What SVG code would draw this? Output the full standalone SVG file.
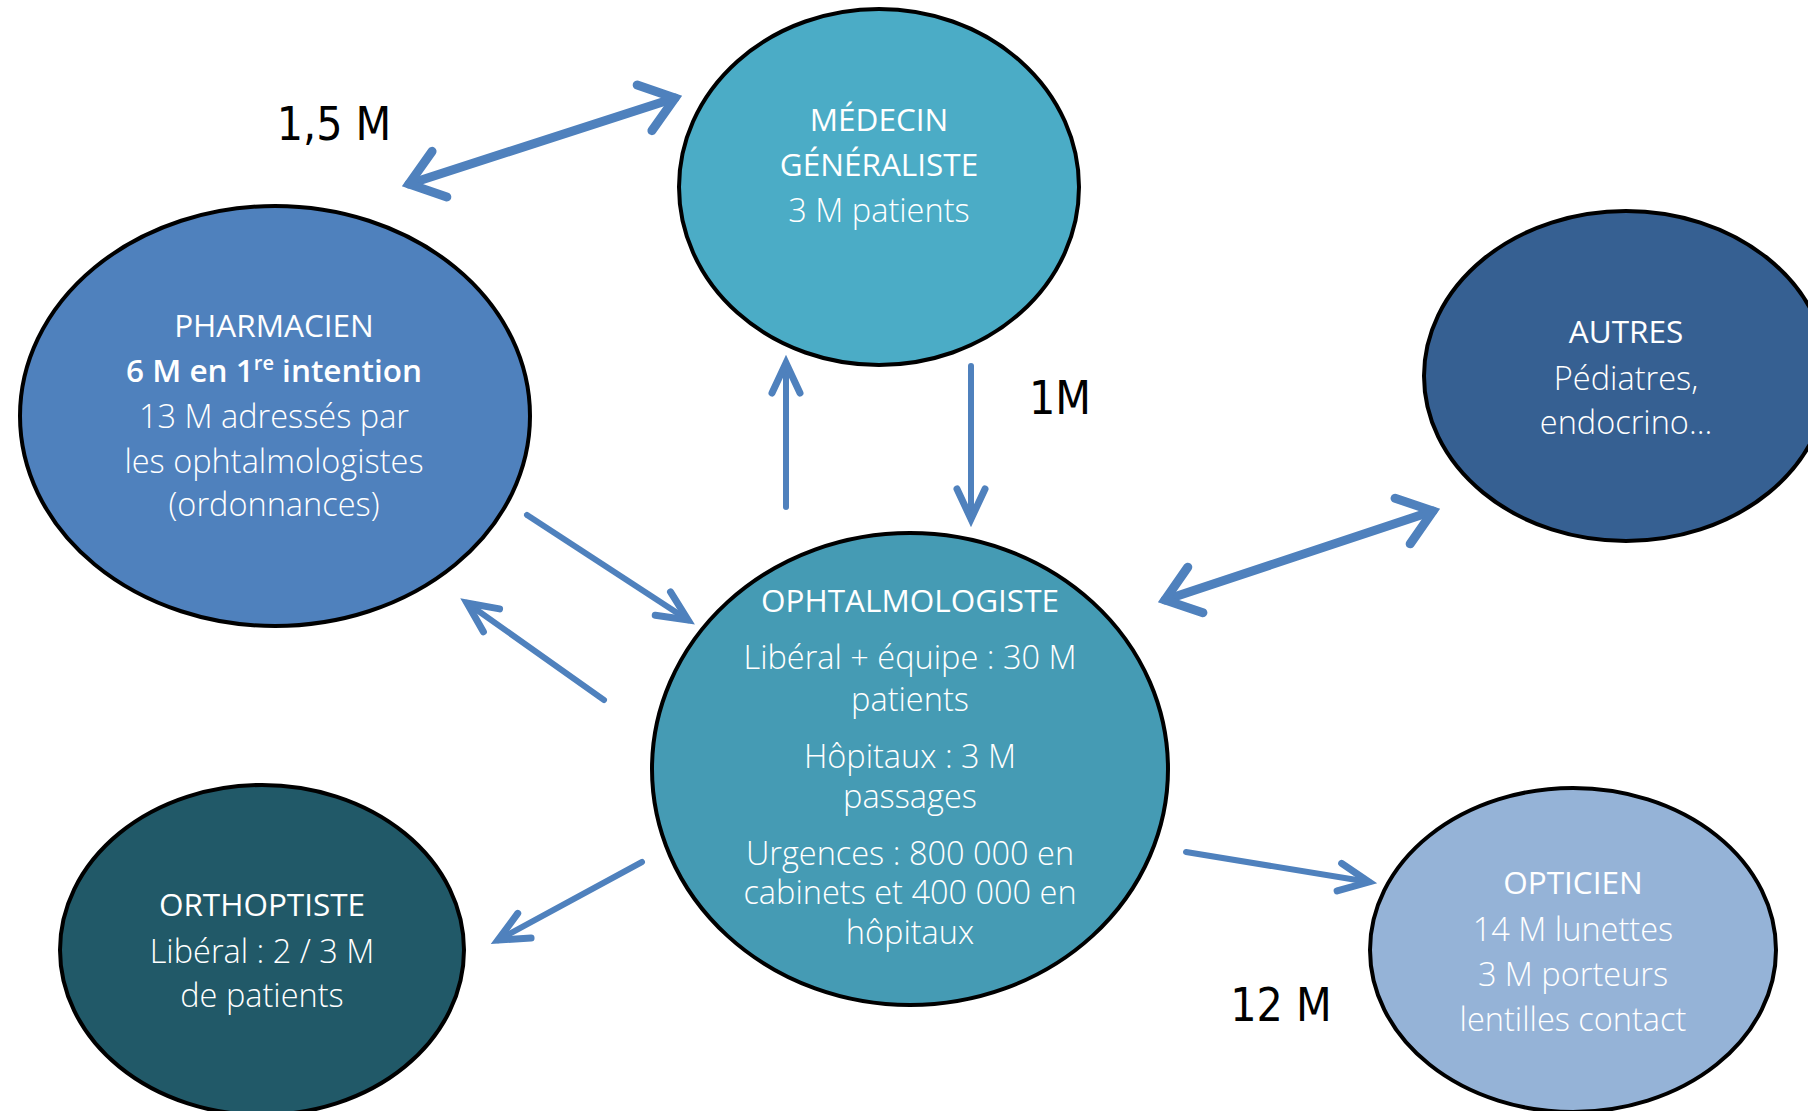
<svg xmlns="http://www.w3.org/2000/svg" width="1808" height="1111" viewBox="0 0 1808 1111">
<style>
.node ellipse{stroke:#000;stroke-width:4}
.t{font-family:"Open Sans","Liberation Sans",sans-serif;font-size:32.5px;fill:#fff;text-anchor:middle}
.h{font-weight:400;font-size:31.5px}
.b{font-weight:300}
.bb{font-weight:600;font-size:31.5px}
.lbl{font-family:"DejaVu Sans Condensed","Liberation Sans Narrow","Liberation Sans",sans-serif;font-size:46px;fill:#000;text-anchor:middle}
.c line{stroke:#4F81BD;stroke-linecap:round;fill:none}
.thick{stroke-width:9}
.thin{stroke-width:6}
</style>
<defs>
<marker id="hd" markerUnits="userSpaceOnUse" markerWidth="80" markerHeight="80" viewBox="-40 -40 80 80" refX="0" refY="0" orient="auto-start-reverse" overflow="visible">
<path d="M -32 -24 L 0 0 L -32 24" fill="none" stroke="#4F81BD" stroke-width="9" stroke-linecap="round" stroke-linejoin="miter"/>
</marker>
<marker id="hn" markerUnits="userSpaceOnUse" markerWidth="80" markerHeight="80" viewBox="-40 -40 80 80" refX="0" refY="0" orient="auto-start-reverse" overflow="visible">
<path d="M -30 -14 L 0 0 L -30 14" fill="none" stroke="#4F81BD" stroke-width="7" stroke-linecap="round" stroke-linejoin="miter"/>
</marker>
</defs>
<rect width="1808" height="1111" fill="#fff"/>

<g id="connectors" class="c">
<line class="thick" x1="409" y1="184" x2="675" y2="98" marker-start="url(#hd)" marker-end="url(#hd)"/>
<line class="thin" x1="786" y1="507" x2="786" y2="363" marker-end="url(#hn)"/>
<line class="thin" x1="971" y1="366" x2="971" y2="519" marker-end="url(#hn)"/>
<line class="thin" x1="527" y1="515" x2="688" y2="620" marker-end="url(#hn)"/>
<line class="thin" x1="604" y1="700" x2="467" y2="603" marker-end="url(#hn)"/>
<line class="thin" x1="642" y1="862" x2="498" y2="940" marker-end="url(#hn)"/>
<line class="thick" x1="1165" y1="600" x2="1433" y2="511" marker-start="url(#hd)" marker-end="url(#hd)"/>
<line class="thin" x1="1186" y1="852" x2="1369" y2="882" marker-end="url(#hn)"/>
</g>

<g id="medecin" class="node">
<ellipse cx="879" cy="187" rx="200" ry="178" fill="#4BACC6"/>
<text class="t h" x="879" y="131">MÉDECIN</text>
<text class="t h" x="879" y="176">GÉNÉRALISTE</text>
<text class="t b" x="879" y="222">3 M patients</text>
</g>

<g id="pharmacien" class="node">
<ellipse cx="275" cy="416" rx="255" ry="210" fill="#4F81BD"/>
<text class="t h" x="274" y="337">PHARMACIEN</text>
<text class="t bb" x="274" y="382">6 M en 1<tspan font-size="20" dy="-12">re</tspan><tspan dy="12"> intention</tspan></text>
<text class="t b" x="274" y="428">13 M adressés par</text>
<text class="t b" x="274" y="473">les ophtalmologistes</text>
<text class="t b" x="274" y="516">(ordonnances)</text>
</g>

<g id="autres" class="node">
<ellipse cx="1626" cy="376" rx="202" ry="165" fill="#366092"/>
<text class="t h" x="1626" y="343">AUTRES</text>
<text class="t b" x="1626" y="390">Pédiatres,</text>
<text class="t b" x="1626" y="434">endocrino…</text>
</g>

<g id="ophtalmologiste" class="node">
<ellipse cx="910" cy="769" rx="258" ry="236" fill="#459BB4"/>
<text class="t h" x="910" y="612">OPHTALMOLOGISTE</text>
<text class="t b" x="910" y="669">Libéral + équipe : 30 M</text>
<text class="t b" x="910" y="711">patients</text>
<text class="t b" x="910" y="768">Hôpitaux : 3 M</text>
<text class="t b" x="910" y="808">passages</text>
<text class="t b" x="910" y="865">Urgences : 800 000 en</text>
<text class="t b" x="910" y="904">cabinets et 400 000 en</text>
<text class="t b" x="910" y="944">hôpitaux</text>
</g>

<g id="orthoptiste" class="node">
<ellipse cx="262" cy="950" rx="202" ry="165" fill="#215968"/>
<text class="t h" x="262" y="916">ORTHOPTISTE</text>
<text class="t b" x="262" y="963">Libéral : 2 / 3 M</text>
<text class="t b" x="262" y="1007">de patients</text>
</g>

<g id="opticien" class="node">
<ellipse cx="1573" cy="950" rx="203" ry="162" fill="#95B3D7"/>
<text class="t h" x="1573" y="894">OPTICIEN</text>
<text class="t b" x="1573" y="941">14 M lunettes</text>
<text class="t b" x="1573" y="986">3 M porteurs</text>
<text class="t b" x="1573" y="1031">lentilles contact</text>
</g>

<g id="labels">
<text class="lbl" x="334" y="140">1,5 M</text>
<text class="lbl" x="1060" y="414">1M</text>
<text class="lbl" x="1281" y="1021">12 M</text>
</g>
</svg>
